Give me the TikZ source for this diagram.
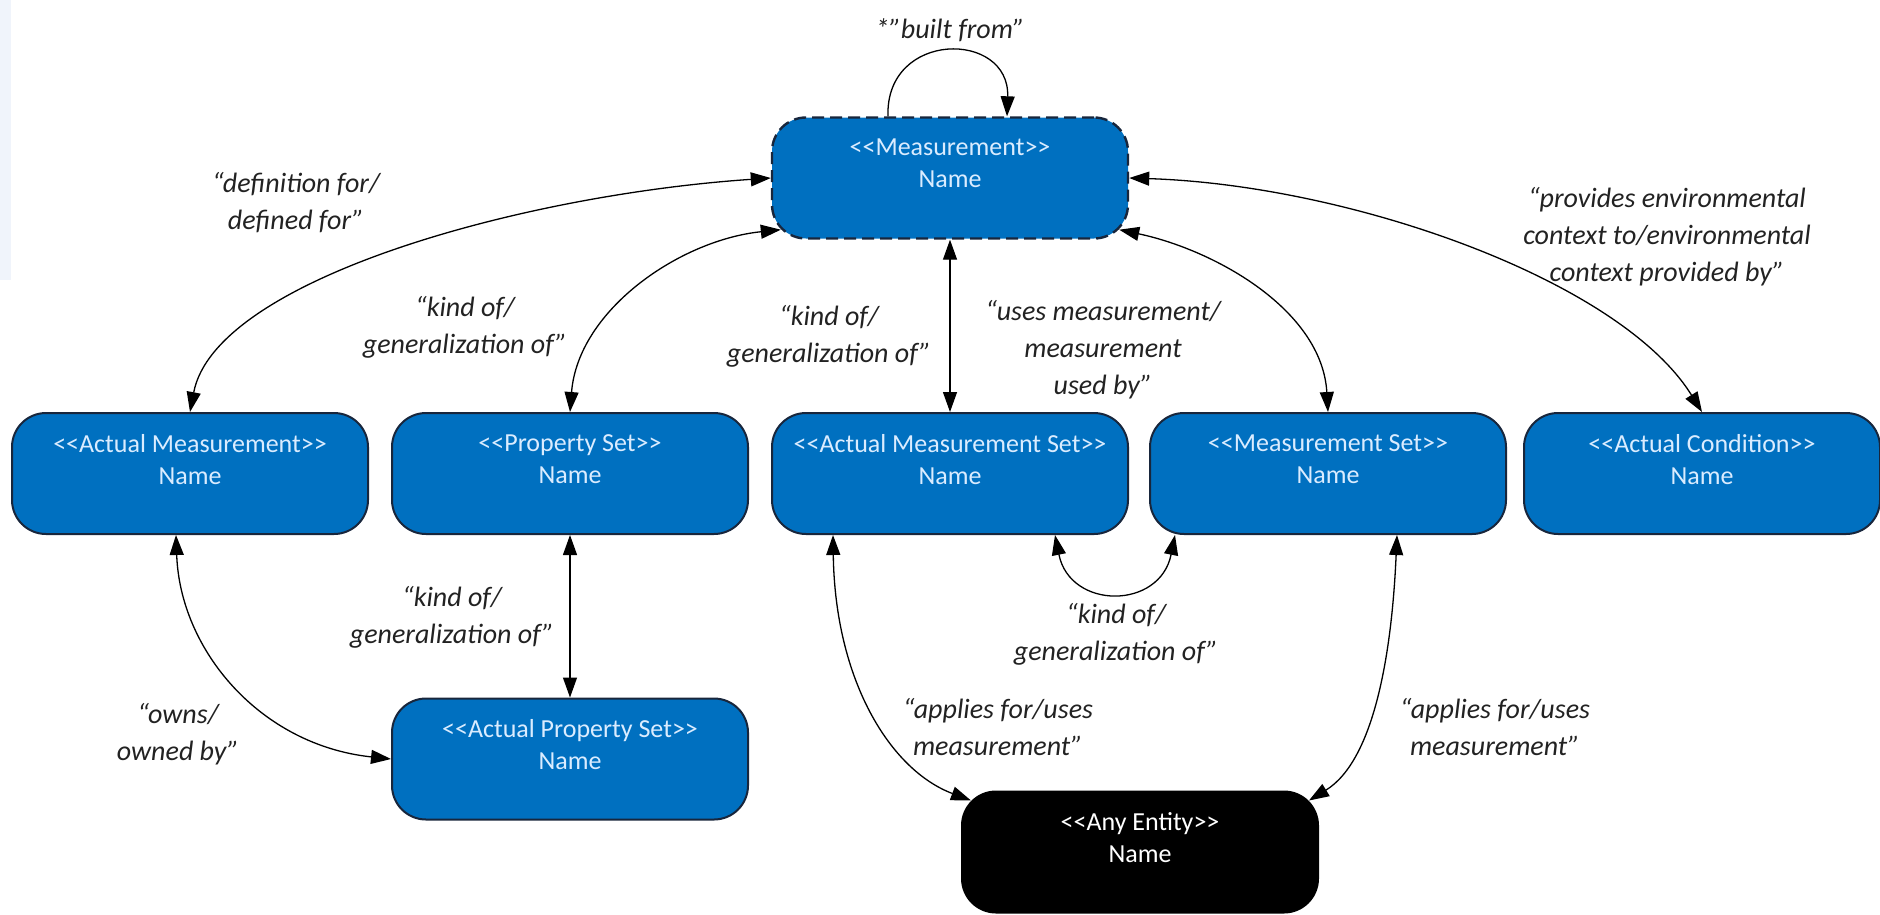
\documentclass[tikz,border=0pt]{standalone}
\usepackage{fontspec}
\setmainfont{Carlito}
\usetikzlibrary{arrows.meta}
\definecolor{boxblue}{RGB}{0,112,192}
\definecolor{boxline}{RGB}{24,38,60}
\definecolor{boxtxt}{RGB}{218,236,255}
\definecolor{lbltxt}{RGB}{34,34,34}
\definecolor{edgestrip}{RGB}{240,244,251}
\newcommand\stype[1]{<\kern0pt<#1>\kern0pt>}
\tikzset{
  cls/.style={draw=boxline, line width=2pt, fill=boxblue, rounded corners=34pt,
    minimum width=356pt, minimum height=121pt, inner sep=0pt},
  clsdash/.style={cls, dash pattern=on 12pt off 6pt, line width=2.4pt},
  clsblack/.style={cls, fill=black, draw=black},
  clstext/.style={text=boxtxt, font=\fontsize{26}{32}\selectfont,
    align=center, inner sep=0pt},
  rel/.style={font=\fontsize{28}{37}\selectfont\itshape, text=lbltxt,
    align=center, inner sep=0pt},
  tip/.tip={Triangle[length=20pt,width=14pt]},
  link/.style={draw=black, line width=1.3pt, tip-tip},
  selflink/.style={draw=black, line width=1.3pt, -tip},
}
\begin{document}
\begin{tikzpicture}[x=1pt,y=-1pt]
\useasboundingbox (0,0) rectangle (1880,914);
\fill[edgestrip] (0,0) rectangle (11,280);

% classes
\node[clsdash]  (M)   at (950,178) {};
\node[cls]      (AM)  at (190,473.5) {};
\node[cls]      (PS)  at (570,473.5) {};
\node[cls]      (AMS) at (950,473.5) {};
\node[cls]      (MS)  at (1328,473.5) {};
\node[cls]      (AC)  at (1702,473.5) {};
\node[cls]      (APS) at (570,759) {};
\node[clsblack] (AE)  at (1140,852) {};

\node[clstext, below=22pt] (Mt)   at (M.north)   {\stype{Measurement}\\Name};
\node[clstext, below=22pt] (AMt)  at (AM.north)  {\stype{Actual Measurement}\\Name};
\node[clstext, below=22pt] (PSt)  at (PS.north)  {\stype{Property Set}\\Name};
\node[clstext, below=22pt] (AMSt) at (AMS.north) {\stype{Actual Measurement Set}\\Name};
\node[clstext, below=22pt] (MSt)  at (MS.north)  {\stype{Measurement Set}\\Name};
\node[clstext, below=22pt] (ACt)  at (AC.north)  {\stype{Actual Condition}\\Name};
\node[clstext, below=22pt] (APSt) at (APS.north) {\stype{Actual Property Set}\\Name};
\node[clstext, below=22pt, text=white] (AEt) at (AE.north) {\stype{Any Entity}\\Name};

% relationships
\draw[selflink] ([xshift=-62pt]M.north) .. controls (885,30) and (1010,30) .. ([xshift=57pt]M.north);
\draw[link] (AM.north) .. controls (215,280) and (520,195) .. (M.west);
\draw[link] (PS.north) .. controls (578,310) and (680,240) .. ([xshift=10pt,yshift=10pt]M.south west);
\draw[link] (M.south) -- (AMS.north);
\draw[link] ([xshift=-10pt,yshift=10pt]M.south east) .. controls (1215,250) and (1322,310) .. (MS.north);
\draw[link] (M.east) .. controls (1350,185) and (1620,280) .. (AC.north);
\draw[link] (PS.south) -- (APS.north);
\draw[link] ([xshift=-14pt]AM.south) .. controls (180,650) and (260,745) .. (APS.west);
\draw[link] ([xshift=-117pt]AMS.south) .. controls (835,680) and (890,770) .. ([xshift=10pt,yshift=-10pt]AE.north west);
\draw[link] ([xshift=69pt]MS.south) .. controls (1392,650) and (1375,760) .. ([xshift=-10pt,yshift=-10pt]AE.north east);
\draw[link] ([xshift=105pt]AMS.south) .. controls (1070,610) and (1160,610) .. ([xshift=-153pt]MS.south);

% relationship labels
\node[rel] (lbuilt) at (950,30)   {*”built from”};
\node[rel] (ldef)   at (296,203)  {“definition for/\\defined for”};
\node[rel] (lkind1) at (465,327)  {“kind of/\\generalization of”};
\node[rel] (lkind2) at (829,336)  {“kind of/\\generalization of”};
\node[rel] (luses)  at (1103,350) {“uses measurement/\\measurement\\used by”};
\node[rel] (lenv)   at (1667,237) {“provides environmental\\context to/environmental\\context provided by”};
\node[rel] (lkind3) at (452,617)  {“kind of/\\generalization of”};
\node[rel] (lowns)  at (178,734)  {“owns/\\owned by”};
\node[rel] (lkind4) at (1116,634) {“kind of/\\generalization of”};
\node[rel] (lapp1)  at (998,727)  {“applies for/uses\\measurement”};
\node[rel] (lapp2)  at (1495,727) {“applies for/uses\\measurement”};
\end{tikzpicture}
\end{document}
